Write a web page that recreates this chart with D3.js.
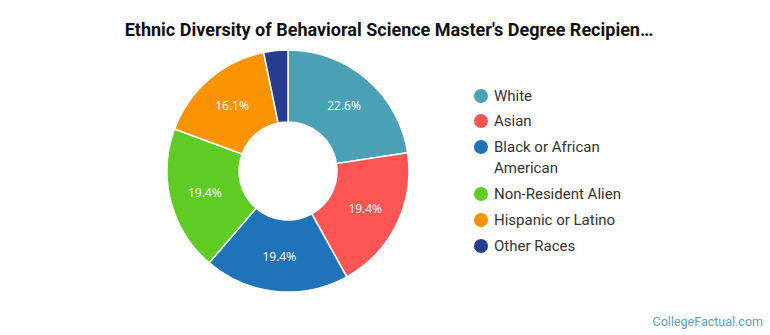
<!DOCTYPE html>
<html>
<head>
<meta charset="utf-8">
<script src="https://cdn.jsdelivr.net/npm/d3@7"></script>
<style>
  html, body { margin: 0; padding: 0; background: #fff; }
  svg { display: block; }
</style>
</head>
<body>
<svg id="chart" width="770" height="335"></svg>
<script>
// Degree recipients by ethnicity (counts)
const categories = ["White", "Asian", "Black or African American", "Non-Resident Alien", "Hispanic or Latino", "Other Races"];
const legendLines = [["White"], ["Asian"], ["Black or African", "American"], ["Non-Resident Alien"], ["Hispanic or Latino"], ["Other Races"]];
const counts = [7, 6, 6, 6, 5, 1];
const percentLabels = ["22.6%", "19.4%", "19.4%", "19.4%", "16.1%", ""];
const colors = ["#4aa0b5", "#fd5454", "#1f73b9", "#5fcb25", "#fa9302", "#283c91"];

const svg = d3.select("#chart");

svg.append("text")
  .attr("x", 389).attr("y", 36)
  .attr("text-anchor", "middle")
  .attr("font-family", "Roboto, sans-serif")
  .attr("font-weight", "bold")
  .attr("font-size", 18)
  .attr("fill", "#111")
  .text("Ethnic Diversity of Behavioral Science Master's Degree Recipien…");

const cx = 288, cy = 171, rOuter = 121, rInner = 49;
const g = svg.append("g").attr("transform", `translate(${cx},${cy})`);

const pie = d3.pie().value(d => d).sort(null);
const arcs = pie(counts);
const arc = d3.arc().innerRadius(rInner).outerRadius(rOuter);
const labelArc = d3.arc().innerRadius(86).outerRadius(86);

g.selectAll("path.slice")
  .data(arcs)
  .join("path")
  .attr("class", "slice")
  .attr("d", arc)
  .attr("fill", (d, i) => colors[i])
  .attr("stroke", "#fff")
  .attr("stroke-width", 1.5);

g.selectAll("text.pct")
  .data(arcs)
  .join("text")
  .attr("class", "pct")
  .attr("transform", d => `translate(${labelArc.centroid(d)})`)
  .attr("text-anchor", "middle")
  .attr("dy", "0.35em")
  .attr("font-family", "'Open Sans', sans-serif")
  .attr("font-size", 12)
  .attr("fill", "#fff")
  .text((d, i) => percentLabels[i]);

// Legend
const legend = svg.append("g").attr("transform", "translate(481,0)");
const rowY = [96, 121, 147, 194, 220, 246];
legendLines.forEach((lines, i) => {
  const row = legend.append("g").attr("transform", `translate(0,${rowY[i]})`);
  row.append("circle").attr("r", 7).attr("cx", 0).attr("cy", 0).attr("fill", colors[i]);
  const t = row.append("text")
    .attr("x", 13).attr("y", 0)
    .attr("font-family", "Roboto, sans-serif")
    .attr("font-size", 15)
    .attr("fill", "#333");
  lines.forEach((ln, j) => {
    t.append("tspan").attr("x", 13).attr("dy", j === 0 ? "0.35em" : 21).text(ln);
  });
});

svg.append("text")
  .attr("x", 763).attr("y", 326)
  .attr("text-anchor", "end")
  .attr("font-family", "Roboto, sans-serif")
  .attr("font-size", 12.5)
  .attr("fill", "#5b9fb3")
  .text("CollegeFactual.com");
</script>
</body>
</html>
